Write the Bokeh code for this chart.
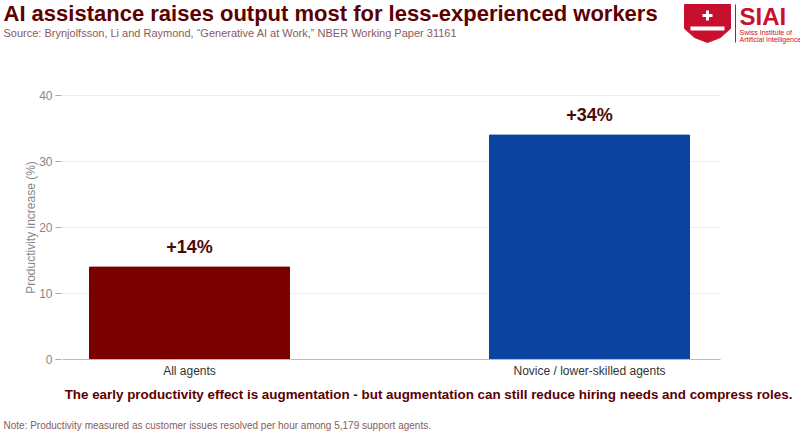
from bokeh.plotting import figure
from bokeh.models import Range1d, ColumnDataSource
from bokeh.core.properties import value
from bokeh.embed import file_html
from bokeh.resources import INLINE
import math

categories = ["All agents", "Novice / lower-skilled agents"]
values = [14, 34]
labels = ["+14%", "+34%"]
colors = ["#7a0000", "#0b44a0"]
xpos = [0.5, 1.5]
yticks = [0, 10, 20, 30, 40]

DARK = "#5c0000"
FONT = "Liberation Sans"
W, H = 800, 433
XPX, YPX = 400.0, 6.6
X0 = 0.5 - 189 / XPX
Y0 = -(H - 359) / YPX
X1 = X0 + W / XPX
Y1 = Y0 + H / YPX

def cx(px):
    return X0 + px / XPX

def cy(py):
    return Y1 - py / YPX

p = figure(width=W, height=H, output_backend="svg", toolbar_location=None,
           x_range=Range1d(X0, X1), y_range=Range1d(Y0, Y1),
           min_border=0, min_border_left=0, min_border_right=0, min_border_top=0, min_border_bottom=0)
p.axis.visible = False
p.grid.visible = False
p.outline_line_color = None

def txt(x, y, t, size, color, bold=False, align="left", base="middle", angle=0):
    p.text(x=[x], y=[y], text=[t], text_font=value(FONT), text_font_size=size, text_color=color,
           text_font_style="bold" if bold else "normal", text_align=align, text_baseline=base, angle=angle)

xl, xr = cx(62), cx(720)
p.segment(x0=[xl] * len(yticks), y0=yticks, x1=[xr] * len(yticks), y1=yticks, line_color="#eeeeee")
p.segment(x0=[cx(55)] * len(yticks), y0=yticks, x1=[cx(61)] * len(yticks), y1=yticks, line_color="#aaaaaa")
p.text(x=[cx(52)] * len(yticks), y=yticks, text=[str(t) for t in yticks], text_font=value(FONT),
       text_font_size="12px", text_color="#888888", text_align="right", text_baseline="middle")
txt(cx(30), 20, "Productivity increase (%)", "12px", "#888888", align="center", angle=math.pi / 2)

src = ColumnDataSource(dict(x=xpos, top=values, color=colors, lab=labels, ly=[v + 1.6 for v in values]))
p.vbar(x="x", top="top", width=0.5, color="color", source=src)
p.text(x="x", y="ly", text="lab", source=src, text_align="center", text_baseline="bottom",
       text_font_size="18px", text_font_style="bold", text_color="#4a0a0a", text_font=value(FONT))

p.segment(x0=[xl], y0=[0], x1=[xr], y1=[0], line_color="#bbbbbb")
p.text(x=xpos, y=[cy(370)] * 2, text=categories, text_font=value(FONT), text_font_size="12px",
       text_color="#333333", text_align="center", text_baseline="middle")

txt(cx(3), cy(13), "AI assistance raises output most for less-experienced workers", "22px", DARK, True)
txt(cx(3), cy(32), "Source: Brynjolfsson, Li and Raymond, \u201cGenerative AI at Work,\u201d NBER Working Paper 31161", "11px", "#8a5a5a")
p.patch(x=[cx(v) for v in [684, 730, 730, 720, 707, 694, 684]],
        y=[cy(v) for v in [4, 4, 28, 37, 42, 37, 28]], color="#c8102e")
p.segment(x0=[cx(702)], y0=[cy(15)], x1=[cx(712)], y1=[cy(15)], line_color="white", line_width=3)
p.segment(x0=[cx(707)], y0=[cy(10)], x1=[cx(707)], y1=[cy(20)], line_color="white", line_width=3)
p.segment(x0=[cx(690)], y0=[cy(28)], x1=[cx(724)], y1=[cy(28)], line_color="white", line_width=4)
p.segment(x0=[cx(735)], y0=[cy(4)], x1=[cx(735)], y1=[cy(42)], line_color="#c8102e", line_width=1)
txt(cx(739), cy(16), "SIAI", "24px", "#c8102e", True)
txt(cx(739), cy(32), "Swiss Institute of", "7px", "#c8102e")
txt(cx(739), cy(39), "Artificial Intelligence", "7px", "#c8102e")

txt(cx(428), cy(394), "The early productivity effect is augmentation - but augmentation can still reduce hiring needs and compress roles.", "13.4px", DARK, True, "center")
txt(cx(3), cy(425), "Note: Productivity measured as customer issues resolved per hour among 5,179 support agents.", "10px", "#8a5a5a")

open("out.html", "w").write(file_html(p, INLINE))
